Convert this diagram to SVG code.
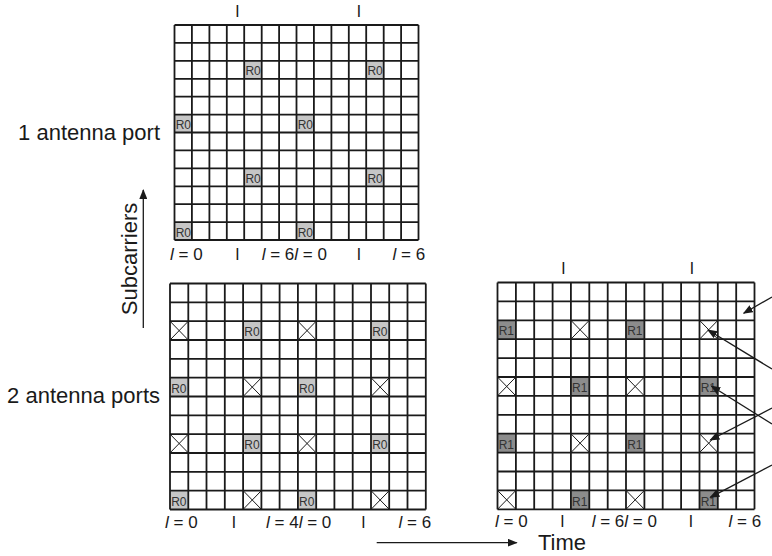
<svg xmlns="http://www.w3.org/2000/svg" width="772" height="556" viewBox="0 0 772 556">
<defs>
<style>
text{font-family:"Liberation Sans",Arial,sans-serif;fill:#1a1a1a}
.big{font-size:22px}
.ax{font-size:17px}
.it{font-style:italic}
.cell{font-size:12px;fill:#333}
.grid{fill:none;stroke:#1a1a1a;stroke-width:1.8}
.r0{fill:#c6c6c6}
.r1{fill:#8c8c8c}
.x{fill:none;stroke:#1a1a1a;stroke-width:1}
.conn{fill:none;stroke:#1a1a1a;stroke-width:1.3}
</style>
<marker id="ah" markerUnits="userSpaceOnUse" markerWidth="10" markerHeight="8" refX="9" refY="4" orient="auto">
<path d="M0 0L10 4L0 8Z" fill="#1a1a1a"/>
</marker>
</defs>
<rect width="772" height="556" fill="#fff"/>

<g id="label-1port"><text class="big" x="160" y="140" text-anchor="end">1 antenna port</text></g>
<g id="label-2ports"><text class="big" x="160" y="403" text-anchor="end">2 antenna ports</text></g>
<g id="label-subcarriers"><text class="big" transform="translate(137 259) rotate(-90)" text-anchor="middle">Subcarriers</text></g>
<g id="label-time"><text class="big" x="538" y="550">Time</text></g>

<g id="grid-1port">
<rect class="r0" x="244.2" y="60.8" width="17.4" height="17.9"/>
<rect class="r0" x="366.2" y="60.8" width="17.4" height="17.9"/>
<rect class="r0" x="174.5" y="114.6" width="17.4" height="17.9"/>
<rect class="r0" x="296.5" y="114.6" width="17.4" height="17.9"/>
<rect class="r0" x="244.2" y="168.4" width="17.4" height="17.9"/>
<rect class="r0" x="366.2" y="168.4" width="17.4" height="17.9"/>
<rect class="r0" x="174.5" y="222.1" width="17.4" height="17.9"/>
<rect class="r0" x="296.5" y="222.1" width="17.4" height="17.9"/>
<path class="grid" d="M174.5 25V240M191.9 25V240M209.4 25V240M226.8 25V240M244.2 25V240M261.7 25V240M279.1 25V240M296.5 25V240M313.9 25V240M331.4 25V240M348.8 25V240M366.2 25V240M383.7 25V240M401.1 25V240M418.5 25V240M174.5 25H418.5M174.5 42.9H418.5M174.5 60.8H418.5M174.5 78.8H418.5M174.5 96.7H418.5M174.5 114.6H418.5M174.5 132.5H418.5M174.5 150.4H418.5M174.5 168.4H418.5M174.5 186.3H418.5M174.5 204.2H418.5M174.5 222.1H418.5M174.5 240H418.5"/>
<text class="cell" x="245.4" y="75.4">R0</text>
<text class="cell" x="367.4" y="75.4">R0</text>
<text class="cell" x="175.7" y="129.2">R0</text>
<text class="cell" x="297.7" y="129.2">R0</text>
<text class="cell" x="245.4" y="183">R0</text>
<text class="cell" x="367.4" y="183">R0</text>
<text class="cell" x="175.7" y="236.7">R0</text>
<text class="cell" x="297.7" y="236.7">R0</text>
<text class="ax" x="237.3" y="17.3" text-anchor="middle">l</text>
<text class="ax" x="359" y="17.3" text-anchor="middle">l</text>
<text class="ax" x="170" y="260"><tspan class="it">l</tspan> = 0</text>
<text class="ax" x="237.3" y="260" text-anchor="middle">l</text>
<text class="ax" x="261.7" y="260"><tspan class="it">l</tspan> = 6<tspan class="it">l</tspan> = 0</text>
<text class="ax" x="359" y="260" text-anchor="middle">l</text>
<text class="ax" x="392.5" y="260"><tspan class="it">l</tspan> = 6</text>
</g>

<g id="grid-2ports-a">
<rect class="r0" x="243.1" y="321.2" width="18.3" height="18.8"/>
<rect class="r0" x="371" y="321.2" width="18.3" height="18.8"/>
<rect class="r0" x="170" y="377.7" width="18.3" height="18.8"/>
<rect class="r0" x="297.9" y="377.7" width="18.3" height="18.8"/>
<rect class="r0" x="243.1" y="434.1" width="18.3" height="18.8"/>
<rect class="r0" x="371" y="434.1" width="18.3" height="18.8"/>
<rect class="r0" x="170" y="490.6" width="18.3" height="18.8"/>
<rect class="r0" x="297.9" y="490.6" width="18.3" height="18.8"/>
<path class="x" d="M170 321.2l18.3 18.8M188.3 321.2l-18.3 18.8M297.9 321.2l18.3 18.8M316.2 321.2l-18.3 18.8M243.1 377.7l18.3 18.8M261.4 377.7l-18.3 18.8M371 377.7l18.3 18.8M389.3 377.7l-18.3 18.8M170 434.1l18.3 18.8M188.3 434.1l-18.3 18.8M297.9 434.1l18.3 18.8M316.2 434.1l-18.3 18.8M243.1 490.6l18.3 18.8M261.4 490.6l-18.3 18.8M371 490.6l18.3 18.8M389.3 490.6l-18.3 18.8"/>
<path class="grid" d="M170 283.5V509.5M188.3 283.5V509.5M206.5 283.5V509.5M224.8 283.5V509.5M243.1 283.5V509.5M261.4 283.5V509.5M279.6 283.5V509.5M297.9 283.5V509.5M316.2 283.5V509.5M334.4 283.5V509.5M352.7 283.5V509.5M371 283.5V509.5M389.2 283.5V509.5M407.5 283.5V509.5M425.8 283.5V509.5M170 283.5H425.8M170 302.3H425.8M170 321.2H425.8M170 340H425.8M170 358.8H425.8M170 377.7H425.8M170 396.5H425.8M170 415.3H425.8M170 434.1H425.8M170 453H425.8M170 471.8H425.8M170 490.6H425.8M170 509.5H425.8"/>
<text class="cell" x="244.3" y="336.2">R0</text>
<text class="cell" x="372.2" y="336.2">R0</text>
<text class="cell" x="171.2" y="392.7">R0</text>
<text class="cell" x="299.1" y="392.7">R0</text>
<text class="cell" x="244.3" y="449.1">R0</text>
<text class="cell" x="372.2" y="449.1">R0</text>
<text class="cell" x="171.2" y="505.6">R0</text>
<text class="cell" x="299.1" y="505.6">R0</text>
<text class="ax" x="165" y="528"><tspan class="it">l</tspan> = 0</text>
<text class="ax" x="234" y="528" text-anchor="middle">l</text>
<text class="ax" x="266" y="528"><tspan class="it">l</tspan> = 4<tspan class="it">l</tspan> = 0</text>
<text class="ax" x="363.3" y="528" text-anchor="middle">l</text>
<text class="ax" x="398.5" y="528"><tspan class="it">l</tspan> = 6</text>
</g>

<g id="grid-2ports-b">
<rect class="r1" x="497.5" y="320.3" width="18.4" height="18.9"/>
<rect class="r1" x="626" y="320.3" width="18.4" height="18.9"/>
<rect class="r1" x="570.9" y="377" width="18.4" height="18.9"/>
<rect class="r1" x="699.5" y="377" width="18.4" height="18.9"/>
<rect class="r1" x="497.5" y="433.7" width="18.4" height="18.9"/>
<rect class="r1" x="626" y="433.7" width="18.4" height="18.9"/>
<rect class="r1" x="570.9" y="490.4" width="18.4" height="18.9"/>
<rect class="r1" x="699.5" y="490.4" width="18.4" height="18.9"/>
<path class="x" d="M570.9 320.3l18.4 18.9M589.3 320.3l-18.4 18.9M699.5 320.3l18.4 18.9M717.9 320.3l-18.4 18.9M497.5 377l18.4 18.9M515.9 377l-18.4 18.9M626 377l18.4 18.9M644.4 377l-18.4 18.9M570.9 433.7l18.4 18.9M589.3 433.7l-18.4 18.9M699.5 433.7l18.4 18.9M717.9 433.7l-18.4 18.9M497.5 490.4l18.4 18.9M515.9 490.4l-18.4 18.9M626 490.4l18.4 18.9M644.4 490.4l-18.4 18.9"/>
<path class="grid" d="M497.5 282.5V509.3M515.9 282.5V509.3M534.2 282.5V509.3M552.6 282.5V509.3M570.9 282.5V509.3M589.3 282.5V509.3M607.7 282.5V509.3M626 282.5V509.3M644.4 282.5V509.3M662.7 282.5V509.3M681.1 282.5V509.3M699.5 282.5V509.3M717.8 282.5V509.3M736.2 282.5V509.3M754.5 282.5V509.3M497.5 282.5H754.5M497.5 301.4H754.5M497.5 320.3H754.5M497.5 339.2H754.5M497.5 358.1H754.5M497.5 377H754.5M497.5 395.9H754.5M497.5 414.8H754.5M497.5 433.7H754.5M497.5 452.6H754.5M497.5 471.5H754.5M497.5 490.4H754.5M497.5 509.3H754.5"/>
<text class="cell" x="498.7" y="335.4">R1</text>
<text class="cell" x="627.2" y="335.4">R1</text>
<text class="cell" x="572.1" y="392.1">R1</text>
<text class="cell" x="700.7" y="392.1">R1</text>
<text class="cell" x="498.7" y="448.8">R1</text>
<text class="cell" x="627.2" y="448.8">R1</text>
<text class="cell" x="572.1" y="505.5">R1</text>
<text class="cell" x="700.7" y="505.5">R1</text>
<text class="ax" x="563.3" y="274" text-anchor="middle">l</text>
<text class="ax" x="692" y="274" text-anchor="middle">l</text>
<text class="ax" x="495" y="527"><tspan class="it">l</tspan> = 0</text>
<text class="ax" x="562.3" y="527" text-anchor="middle">l</text>
<text class="ax" x="591.7" y="527"><tspan class="it">l</tspan> = 6<tspan class="it">l</tspan> = 0</text>
<text class="ax" x="691" y="527" text-anchor="middle">l</text>
<text class="ax" x="728.5" y="527"><tspan class="it">l</tspan> = 6</text>
</g>

<g id="connectors">
<path class="conn" d="M143.3 328V190" marker-end="url(#ah)"/>
<path class="conn" d="M376.7 542.7H516.7" marker-end="url(#ah)"/>
<path class="conn" d="M772 297L743.7 313.3" marker-end="url(#ah)"/>
<path class="conn" d="M772 369L708 330" marker-end="url(#ah)"/>
<path class="conn" d="M772 424L711.3 386" marker-end="url(#ah)"/>
<path class="conn" d="M772 408L710.3 440" marker-end="url(#ah)"/>
<path class="conn" d="M772 465L710.3 497.3" marker-end="url(#ah)"/>
</g>
</svg>
